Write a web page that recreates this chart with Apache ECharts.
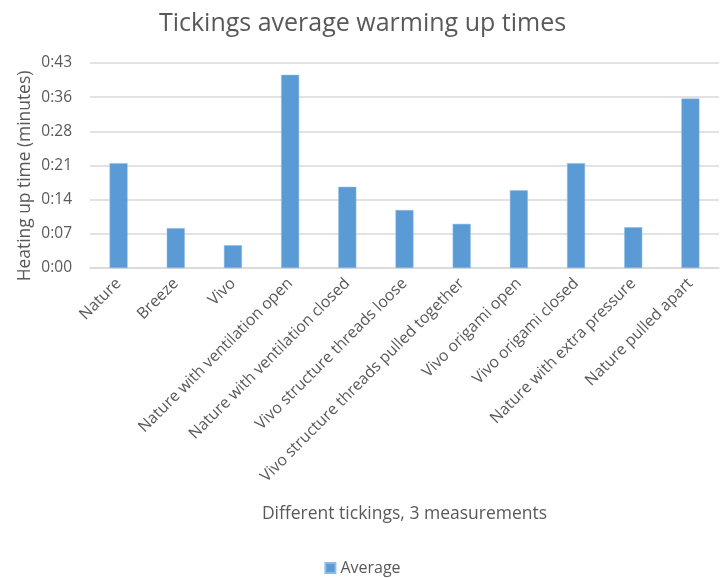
<!DOCTYPE html>
<html>
<head>
<meta charset="utf-8">
<script src="https://cdn.jsdelivr.net/npm/echarts@6/dist/echarts.min.js"></script>
<style>
  html, body { margin: 0; padding: 0; background: #fff; }
  #chart { width: 725px; height: 578px; }
</style>
</head>
<body>
<div id="chart"></div>
<script>
// Tickings tested
const categories = [
  'Nature',
  'Breeze',
  'Vivo',
  'Nature with ventilation open',
  'Nature with ventilation closed',
  'Vivo structure threads loose',
  'Vivo structure threads pulled together',
  'Vivo origami open',
  'Vivo origami closed',
  'Nature with extra pressure',
  'Nature pulled apart'
];

// Average heating-up time in minutes (mean of 3 measurements)
const averageMinutes = [22.1, 8.4, 4.8, 40.7, 17.1, 12.2, 9.3, 16.4, 22.1, 8.6, 35.7];

// Value axis: ticks every 7.2 minutes, shown as truncated h:mm
const axisMin = 0;
const axisMax = 43.2;
const axisStep = 7.2;

const yAxisTitle = 'Heating up time (minutes)';

const textColor = '#595959';
const fontFamily = '"Open Sans", "Noto Sans", sans-serif';

function formatMinutes(v) {
  const m = Math.floor(v + 1e-6);
  return '0:' + (m < 10 ? '0' + m : String(m));
}

const chart = echarts.init(document.getElementById('chart'), null, { renderer: 'canvas' });

chart.setOption({
  animation: false,
  backgroundColor: '#ffffff',
  textStyle: { fontFamily: fontFamily, color: textColor },
  title: {
    text: 'Tickings average warming up times',
    left: 'center',
    top: 6,
    textStyle: { fontFamily: fontFamily, fontSize: 25, fontWeight: 'normal', color: textColor }
  },
  legend: {
    data: ['Average'],
    top: 555,
    left: 'center',
    icon: 'rect',
    itemWidth: 10,
    itemHeight: 10,
    itemGap: 4,
    textStyle: { fontFamily: fontFamily, fontSize: 16, color: textColor }
  },
  // vertical value-axis title, sitting slightly below the plot's midline
  graphic: [{
    type: 'text',
    x: 25,
    y: 176,
    rotation: Math.PI / 2,
    style: {
      text: yAxisTitle,
      fill: textColor,
      font: '17.4px ' + fontFamily,
      textAlign: 'center',
      textVerticalAlign: 'middle'
    }
  }],
  grid: { left: 90, right: 6, top: 63, bottom: 310, containLabel: false },
  xAxis: {
    type: 'category',
    data: categories,
    name: 'Different tickings, 3 measurements',
    nameLocation: 'middle',
    nameGap: 237,
    nameTextStyle: { fontFamily: fontFamily, fontSize: 17.5, color: textColor },
    axisLine: { lineStyle: { color: '#d9d9d9', width: 1.5 } },
    axisTick: { show: false },
    axisLabel: {
      interval: 0,
      rotate: 45,
      margin: 13,
      fontFamily: fontFamily,
      fontSize: 15.8,
      color: textColor
    }
  },
  yAxis: {
    type: 'value',
    min: axisMin,
    max: axisMax,
    interval: axisStep,
    axisLine: { show: false },
    axisTick: { show: false },
    axisLabel: {
      formatter: formatMinutes,
      margin: 18,
      fontFamily: fontFamily,
      fontSize: 15.5,
      color: textColor
    },
    splitLine: { lineStyle: { color: '#d9d9d9', width: 1.5 } }
  },
  series: [{
    name: 'Average',
    type: 'bar',
    data: averageMinutes,
    barWidth: 18,
    itemStyle: { color: '#5b9bd5', borderColor: '#8fbbe3', borderWidth: 0.5 }
  }]
});
</script>
</body>
</html>
